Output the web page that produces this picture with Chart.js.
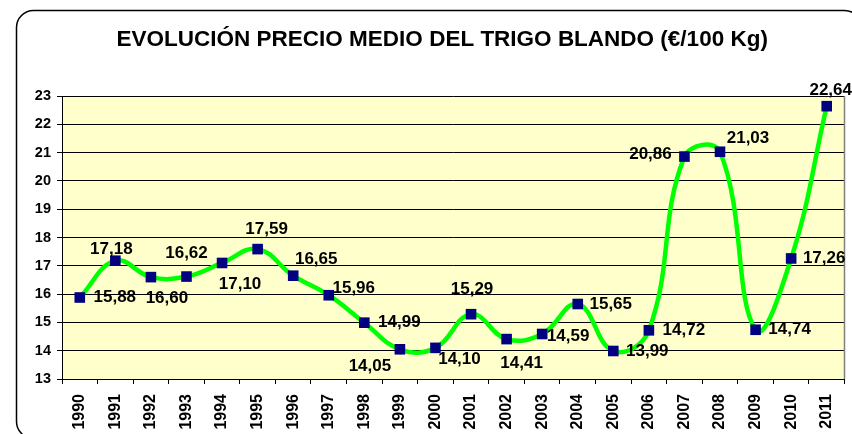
<!DOCTYPE html>
<html>
<head>
<meta charset="utf-8">
<script src="https://cdn.jsdelivr.net/npm/chart.js@4/dist/chart.umd.min.js"></script>
<style>
  html, body { margin: 0; padding: 0; background: #fff; }
  #wrap { width: 852px; height: 434px; }
</style>
</head>
<body>
<div id="wrap"><canvas id="trigoChart" width="852" height="434"></canvas></div>
<script>
// data
const years = ['1990', '1991', '1992', '1993', '1994', '1995', '1996', '1997', '1998', '1999', '2000',
  '2001', '2002', '2003', '2004', '2005', '2006', '2007', '2008', '2009', '2010', '2011'];
const prices = [15.88, 17.18, 16.60, 16.62, 17.10, 17.59, 16.65, 15.96, 14.99, 14.05, 14.10,
  15.29, 14.41, 14.59, 15.65, 13.99, 14.72, 20.86, 21.03, 14.74, 17.26, 22.64];
const yTicks = [13, 14, 15, 16, 17, 18, 19, 20, 21, 22, 23];

// where each value label sits next to its marker (px), like the hand placed excel labels
const labelShift = [
  [35, 0], [-4, -11], [16, 21], [0, -23], [18, 21], [9, -20], [23, -16], [25, -7],
  [35, 0], [-30, 17], [24, 11], [1, -25], [15, 24], [26, 2], [33, 0], [34, 0],
  [35, 0], [-34, -2], [28, -13], [34, 0], [33, 0], [4, -16]
];

const FONT = 'Liberation Sans, Arial, sans-serif';

// background: rounded frame + yellow plot area
const frame = {
  id: 'frame',
  beforeDraw(chart) {
    const { ctx, chartArea: a } = chart;
    ctx.save();
    ctx.fillStyle = '#fff';
    ctx.fillRect(0, 0, chart.width, chart.height);
    ctx.beginPath();
    ctx.roundRect(16.5, 10.5, 845, 428, 17);
    ctx.lineWidth = 1.5;
    ctx.strokeStyle = '#000';
    ctx.stroke();
    ctx.fillStyle = '#FFFFCC';
    ctx.fillRect(a.left, a.top, a.right - a.left, a.bottom - a.top);
    ctx.restore();
  },
  beforeDatasetsDraw(chart) {
    const { ctx, chartArea: a } = chart;
    ctx.save();
    ctx.strokeStyle = '#808080';
    ctx.lineWidth = 1.5;
    ctx.beginPath();
    ctx.moveTo(a.right, a.top);
    ctx.lineTo(a.right, a.bottom);
    ctx.stroke();
    ctx.restore();
  }
};

// value labels with comma decimals
const valueLabels = {
  id: 'valueLabels',
  afterDatasetsDraw(chart) {
    const { ctx } = chart;
    const pts = chart.getDatasetMeta(0).data;
    ctx.save();
    ctx.font = 'bold 17px ' + FONT;
    ctx.fillStyle = '#000';
    ctx.textAlign = 'center';
    ctx.textBaseline = 'middle';
    pts.forEach((p, i) => {
      const txt = prices[i].toFixed(2).replace('.', ',');
      ctx.fillText(txt, p.x + labelShift[i][0], p.y + labelShift[i][1]);
    });
    ctx.restore();
  }
};

new Chart(document.getElementById('trigoChart'), {
  type: 'line',
  data: {
    labels: years,
    datasets: [{
      label: 'Precio medio',
      data: prices,
      borderColor: '#00FF00',
      borderWidth: 4.5,
      tension: 0.42,
      pointStyle: 'rect',
      pointRadius: 7.5,
      pointBackgroundColor: '#000080',
      pointBorderColor: '#000080',
      pointBorderWidth: 0,
      clip: false
    }]
  },
  options: {
    responsive: false,
    animation: false,
    layout: { padding: { left: 34, right: 1.5, top: 0, bottom: 0 } },
    plugins: {
      legend: { display: false },
      tooltip: { enabled: false },
      title: {
        display: true,
        text: 'EVOLUCIÓN PRECIO MEDIO DEL TRIGO BLANDO (€/100 Kg)',
        color: '#000',
        font: { family: FONT, size: 22.5, weight: 'bold' },
        padding: { top: 26, bottom: 43 }
      }
    },
    scales: {
      x: {
        offset: true,
        grid: { offset: true, drawOnChartArea: false, color: '#000', tickLength: 5 },
        border: { color: '#000', width: 1 },
        ticks: {
          autoSkip: false,
          minRotation: 90,
          maxRotation: 90,
          padding: 10,
          color: '#000',
          font: { family: FONT, size: 16, weight: 'bold' }
        },
        afterFit(scale) {
          scale.height = 55;
          scale.paddingLeft = 0;
          scale.paddingRight = 0;
        }
      },
      y: {
        min: yTicks[0],
        max: yTicks[yTicks.length - 1],
        afterBuildTicks(scale) { scale.ticks = yTicks.map(v => ({ value: v })); },
        grid: { color: '#000', lineWidth: 1, tickLength: 5 },
        border: { color: '#000', width: 1 },
        ticks: {
          padding: 6,
          color: '#000',
          font: { family: FONT, size: 14.5, weight: 'bold' }
        },
        afterFit(scale) { scale.width = 28; }
      }
    }
  },
  plugins: [frame, valueLabels]
});
</script>
</body>
</html>
